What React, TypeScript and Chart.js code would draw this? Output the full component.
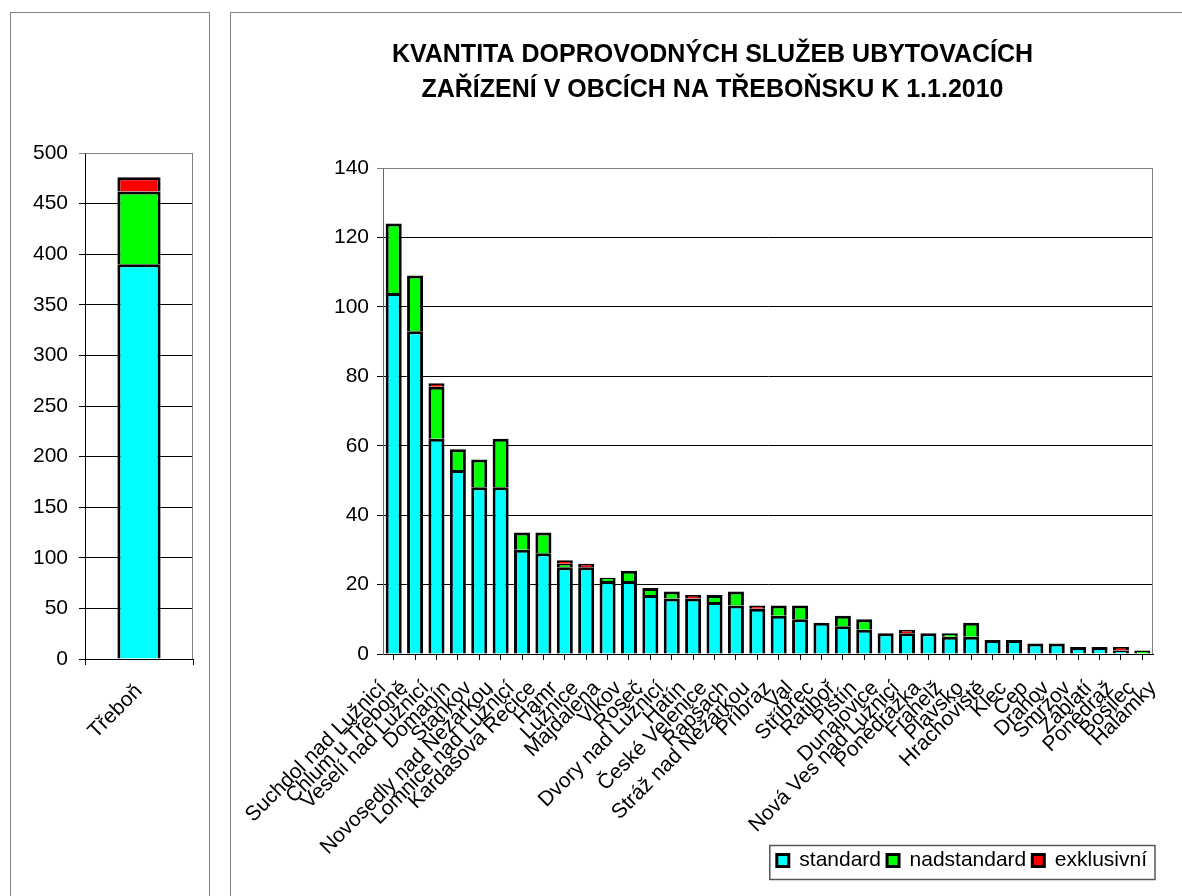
import React, { useEffect, useRef } from 'react';
import { Chart, registerables } from 'chart.js';

Chart.register(...registerables);

// ---------- data ----------
const categories = [
  'Suchdol nad Lužnicí', 'Chlum u Třeboně', 'Veselí nad Lužnicí', 'Domanín', 'Staňkov',
  'Novosedly nad Nežárkou', 'Lomnice nad Lužnicí', 'Kardašova Řečice', 'Hamr', 'Lužnice',
  'Majdalena', 'Vlkov', 'Roseč', 'Dvory nad Lužnicí', 'Hatín', 'České Velenice', 'Rapšach',
  'Stráž nad Nežárkou', 'Příbraz', 'Val', 'Stříbřec', 'Ratiboř', 'Pištín', 'Dunajovice',
  'Nová Ves nad Lužnicí', 'Ponědrážka', 'Frahelž', 'Plavsko', 'Hrachoviště', 'Klec', 'Cep',
  'Drahov', 'Smržov', 'Záblatí', 'Ponědraž', 'Bošilec', 'Halámky',
];

// bars sit between consecutive labels (as in the source picture)
const standard = [104, 93, 62, 53, 48, 48, 30, 29, 25, 25, 21, 21, 17, 16, 16, 15, 14, 13, 11, 10, 9, 8, 7, 6, 6, 6, 5, 5, 4, 4, 3, 3, 2, 2, 1, 0];
const nadstandard = [20, 16, 15, 6, 8, 14, 5, 6, 1, 0, 1, 3, 2, 2, 0, 2, 4, 0, 3, 4, 0, 3, 3, 0, 0, 0, 1, 4, 0, 0, 0, 0, 0, 0, 0, 1];
const exklusivni = [0, 0, 1, 0, 0, 0, 0, 0, 1, 1, 0, 0, 0, 0, 1, 0, 0, 1, 0, 0, 0, 0, 0, 0, 1, 0, 0, 0, 0, 0, 0, 0, 0, 0, 1, 0];

const leftCategories = ['Třeboň'];
const leftStandard = [390];
const leftNadstandard = [72];
const leftExklusivni = [14];

const seriesNames = ['standard', 'nadstandard', 'exklusivní'];
const seriesColors = ['#00FFFF', '#00FF00', '#FF0000'];

const titleLines = [
  'KVANTITA DOPROVODNÝCH SLUŽEB UBYTOVACÍCH',
  'ZAŘÍZENÍ V OBCÍCH NA TŘEBOŇSKU K 1.1.2010',
];

const FONT = '"Liberation Sans", Arial, sans-serif';

const plotBorder = {
  id: 'plotBorder',
  beforeDatasetsDraw(chart: any) {
    const { ctx, chartArea: a } = chart;
    ctx.save();
    ctx.strokeStyle = '#808080';
    ctx.lineWidth = 1;
    ctx.beginPath();
    ctx.moveTo(a.left, a.top + 0.5);
    ctx.lineTo(a.right - 0.5, a.top + 0.5);
    ctx.lineTo(a.right - 0.5, a.bottom);
    ctx.stroke();
    ctx.restore();
  },
};

const legendBox = {
  id: 'legendBox',
  afterDraw(chart: any) {
    const lg = chart.legend;
    if (!lg || !lg.legendHitBoxes || !lg.legendHitBoxes.length) return;
    const hb = lg.legendHitBoxes;
    const left = Math.min(...hb.map((h: any) => h.left)) - 7;
    const right = Math.max(...hb.map((h: any) => h.left + h.width)) + 8;
    const ctx = chart.ctx;
    ctx.save();
    ctx.strokeStyle = '#555';
    ctx.lineWidth = 1.5;
    ctx.strokeRect(left, lg.top + 1.5, right - left, lg.bottom - lg.top - 3);
    ctx.restore();
  },
};

const seg = (i: number, values: any[]) => ({
  label: seriesNames[i],
  data: values,
  backgroundColor: seriesColors[i],
  borderColor: '#000',
  borderWidth: 3,
  inflateAmount: 0,
});

// fixed axis box size; labels may spill past the box (as in the source)
const fixHeight = (h: number) => (s: any) => {
  s.height = h;
  s.paddingLeft = 0;
  s.paddingRight = 0;
  s._computeLabelArea = () => undefined;
};

export default function App() {
  const leftRef = useRef<HTMLCanvasElement>(null);
  const rightRef = useRef<HTMLCanvasElement>(null);

  useEffect(() => {
    Chart.defaults.font.family = FONT;
    Chart.defaults.color = '#000';

    const left = new Chart(leftRef.current as HTMLCanvasElement, {
      type: 'bar',
      data: {
        labels: leftCategories,
        datasets: [
          seg(0, leftStandard),
          seg(1, leftNadstandard),
          seg(2, leftExklusivni),
        ],
      },
      options: {
        responsive: false,
        animation: false,
        layout: { padding: { top: 140, right: 15, bottom: 0, left: 0 } },
        datasets: { bar: { categoryPercentage: 0.4, barPercentage: 1 } },
        plugins: { legend: { display: false }, tooltip: { enabled: false } },
        scales: {
          x: {
            stacked: true,
            grid: { offset: true, drawOnChartArea: false, tickLength: 6, color: '#000' },
            border: { color: '#000' },
            ticks: { minRotation: 45, maxRotation: 45, font: { size: 21 }, color: '#000', padding: 14 },
            afterFit: fixHeight(237),
          },
          y: {
            stacked: true,
            min: 0,
            max: 500,
            ticks: { stepSize: 50, font: { size: 21 }, color: '#000', padding: 11 },
            grid: {
              tickLength: 6,
              color: (c: any) => (c.tick && c.tick.value === 500 ? '#808080' : '#000'),
            },
            border: { color: '#000' },
            afterFit: (s: any) => { s.width = 74; },
          },
        },
      },
      plugins: [plotBorder],
    } as any);

    const right = new Chart(rightRef.current as HTMLCanvasElement, {
      type: 'bar',
      data: {
        datasets: [
          seg(0, standard.map((v, i) => ({ x: i + 0.5, y: v }))),
          seg(1, nadstandard.map((v, i) => ({ x: i + 0.5, y: v }))),
          seg(2, exklusivni.map((v, i) => ({ x: i + 0.5, y: v }))),
        ],
      },
      options: {
        responsive: false,
        animation: false,
        layout: { padding: { top: 0, right: 29, bottom: 15, left: 41 } },
        datasets: { bar: { categoryPercentage: 0.75, barPercentage: 1 } },
        plugins: {
          tooltip: { enabled: false },
          title: {
            display: true,
            text: titleLines,
            color: '#000',
            font: { size: 25, weight: 'bold', lineHeight: 1.4 },
            padding: { top: 24.5, bottom: 60.5 },
          },
          legend: {
            position: 'bottom',
            align: 'end',
            labels: {
              boxWidth: 12,
              boxHeight: 12,
              padding: 6,
              color: '#000',
              font: { size: 21 },
            },
          },
        },
        scales: {
          x: {
            type: 'linear',
            stacked: true,
            min: 0,
            max: categories.length - 1,
            offset: false,
            grid: { drawOnChartArea: false, tickLength: 6, color: '#000' },
            border: { color: '#000' },
            ticks: {
              stepSize: 1,
              autoSkip: false,
              minRotation: 45,
              maxRotation: 45,
              padding: 16,
              color: '#000',
              font: { size: 21 },
              callback: (v: any) => categories[Math.round(Number(v))] ?? '',
            },
            afterFit: fixHeight(190),
          },
          y: {
            stacked: true,
            min: 0,
            max: 140,
            ticks: { stepSize: 20, font: { size: 21 }, color: '#000', padding: 8 },
            grid: {
              tickLength: 6,
              color: (c: any) => (c.tick && c.tick.value === 140 ? '#808080' : '#000'),
            },
            border: { color: '#666' },
            afterFit: (s: any) => { s.width = 111; },
          },
        },
      },
      plugins: [plotBorder, legendBox],
    } as any);

    return () => {
      left.destroy();
      right.destroy();
    };
  }, []);

  return (
    <div style={{ position: 'fixed', left: 0, top: 0, width: 1182, height: 896, background: '#fff', overflow: 'hidden' }}>
      <div style={{ position: 'absolute', left: 10, top: 12, width: 200, height: 920, border: '1px solid #808080', boxSizing: 'border-box' }} />
      <div style={{ position: 'absolute', left: 230, top: 12, width: 1000, height: 920, border: '1px solid #808080', boxSizing: 'border-box' }} />
      <canvas ref={leftRef} width={197} height={883} style={{ position: 'absolute', left: 11, top: 13, width: 197, height: 883 }} />
      <canvas ref={rightRef} width={951} height={883} style={{ position: 'absolute', left: 231, top: 13, width: 951, height: 883 }} />
    </div>
  );
}
